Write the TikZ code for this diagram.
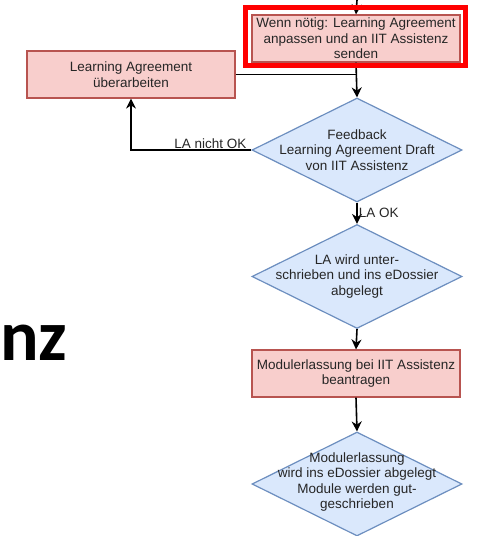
\documentclass[tikz,border=0pt]{standalone}
\usepackage{fontspec}
\setmainfont{Liberation Sans}
\newfontfamily\slidefont{Carlito}
\usetikzlibrary{shapes.geometric,arrows.meta}
\definecolor{taskfill}{HTML}{F8CECC}
\definecolor{taskline}{HTML}{B85450}
\definecolor{askfill}{HTML}{DAE8FC}
\definecolor{askline}{HTML}{6C8EBF}
\tikzset{
  task/.style={rectangle,draw=taskline,fill=taskfill,line width=1.2pt,
    minimum width=208pt,minimum height=47pt,inner sep=0pt,align=center,
    text=black!85,font=\fontsize{13.5}{15.5}\selectfont},
  ask/.style={diamond,draw=askline,fill=askfill,line width=1.2pt,
    minimum width=210pt,minimum height=104pt,inner sep=0pt},
  asktext/.style={align=center,inner sep=0pt,text=black!85,
    font=\fontsize{13.5}{15.5}\selectfont},
  flow/.style={draw,line width=1.6pt,-{Stealth[length=10pt,width=10pt]}},
  plain/.style={draw,line width=1.6pt},
}
\begin{document}
\begin{tikzpicture}[x=1pt,y=-1pt]
  \useasboundingbox (0,0) rectangle (477,536);

  \node[font=\slidefont\bfseries\fontsize{72}{72}\selectfont,anchor=base west,inner sep=0pt] (nz) at (0,360) {nz};

  \begin{scope}
    \node[task] (adjust) at (356,38.5) {Wenn nötig: Learning Agreement\\anpassen und an IIT Assistenz\\senden};
    \node[task] (rework) at (131,74.5)  {Learning Agreement\\überarbeiten};
    \node[ask]  (feedback) at (357,150) {};
    \node[ask]  (signed) at (357,276.5) {};
    \node[task] (request) at (356,373.5) {Modulerlassung bei IIT Assistenz\\beantragen};
    \node[ask]  (credited) at (357,484) {};
    \coordinate (entry) at (357,0);
  \end{scope}

  \begin{scope}[every node/.style={asktext}]
    \node (feedbacktext) at (feedback) {Feedback\\Learning Agreement Draft\\von IIT Assistenz};
    \node (signedtext) at (signed) {LA wird unter-\\schrieben und ins eDossier\\abgelegt};
    \node (creditedtext) at ([yshift=2pt]credited) {Modulerlassung\\wird ins eDossier abgelegt\\Module werden gut-\\geschrieben};
  \end{scope}

  \begin{scope}[every node/.style={text=black!85,font=\fontsize{13.5}{15.5}\selectfont,inner sep=1pt}]
    \path[flow] (entry) -- (adjust.north);
    \path[flow] (adjust.south) -- (feedback.north);
    \path[plain] (rework.east) -- (rework.east -| feedback.north);
    \path[flow] (feedback.west) -| node[above,pos=0.17] (notok) {LA nicht OK} (rework.south);
    \path[flow] (feedback.south) -- node[right] (ok) {LA OK} (signed.north);
    \path[flow] (signed.south) -- (request.north);
    \path[flow] (request.south) -- (credited.north);
  \end{scope}

  \draw[red,line width=5pt] (245.5,7.5) rectangle (465.5,65.5);

\end{tikzpicture}
\end{document}
